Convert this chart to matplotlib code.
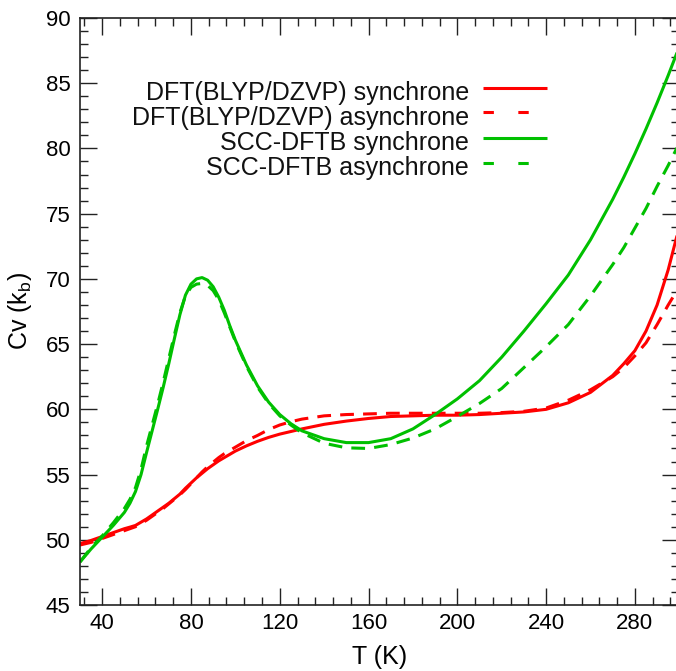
import matplotlib
matplotlib.use("Agg")
import matplotlib.pyplot as plt
from matplotlib.ticker import MultipleLocator

plt.rcParams['font.family'] = ['Liberation Sans', 'DejaVu Sans']
plt.rcParams['mathtext.fontset'] = 'custom'
plt.rcParams['mathtext.rm'] = 'Liberation Sans'
plt.rcParams['mathtext.it'] = 'Liberation Sans:italic'

T = [30, 35, 40, 45, 50, 52.5, 55, 57.5, 60, 62.5, 65, 67.5, 70, 72.5, 75, 77.5, 80,
     82.5, 85, 87.5, 90, 92.5, 95, 97.5, 100, 105, 110, 115, 120, 125, 130, 140,
     150, 160, 170, 180, 190, 200, 210, 220, 230, 240, 250, 260, 270, 275, 280,
     285, 290, 295, 300]

dft_sync = [49.7, 49.95, 50.25, 50.55, 50.85, 50.97, 51.1, 51.35, 51.6, 51.9, 52.2,
            52.5, 52.8, 53.15, 53.5, 53.95, 54.35, 54.75, 55.1, 55.45, 55.75,
            56.05, 56.3, 56.55, 56.8, 57.2, 57.55, 57.85, 58.1, 58.3, 58.5, 58.85,
            59.1, 59.3, 59.45, 59.5, 59.55, 59.55, 59.6, 59.7, 59.8, 60.0, 60.5,
            61.3, 62.6, 63.5, 64.5, 66.0, 68.0, 70.7, 74.0]

dft_async = [49.6, 49.8, 50.1, 50.4, 50.7, 50.85, 51.0, 51.25, 51.5, 51.8, 52.1, 52.4,
             52.75, 53.1, 53.45, 53.85, 54.3, 54.75, 55.2, 55.6, 55.95, 56.3,
             56.6, 56.85, 57.1, 57.6, 58.0, 58.45, 58.8, 59.05, 59.25, 59.5, 59.6,
             59.65, 59.7, 59.7, 59.7, 59.7, 59.7, 59.75, 59.85, 60.1, 60.7, 61.5,
             62.5, 63.2, 64.1, 65.1, 66.5, 68.0, 69.4]

scc_sync = [48.3, 49.3, 50.2, 51.1, 52.1, 52.8, 53.7, 55.0, 56.7, 58.35, 60.0, 61.7,
            63.5, 65.4, 67.25, 68.75, 69.6, 70.0, 70.1, 69.9, 69.4, 68.6, 67.6,
            66.4, 65.3, 63.4, 61.8, 60.55, 59.6, 58.9, 58.35, 57.75, 57.45, 57.45,
            57.75, 58.5, 59.6, 60.8, 62.2, 64.0, 66.0, 68.1, 70.3, 73.0, 76.1, 77.8,
            79.6, 81.5, 83.5, 85.6, 87.8]

scc_async = [48.3, 49.4, 50.3, 51.3, 52.4, 53.1, 54.0, 55.4, 57.2, 58.8, 60.4, 62.1,
             63.9, 65.7, 67.4, 68.7, 69.35, 69.6, 69.65, 69.5, 69.1, 68.4, 67.4,
             66.3, 65.2, 63.3, 61.7, 60.45, 59.5, 58.8, 58.2, 57.4, 57.05, 57.0,
             57.3, 57.8, 58.5, 59.45, 60.45, 61.6, 63.2, 64.8, 66.5, 68.7, 71.1,
             72.4, 73.9, 75.4, 77.1, 78.7, 80.4]

labels = ["DFT(BLYP/DZVP) synchrone", "DFT(BLYP/DZVP) asynchrone",
          "SCC-DFTB synchrone", "SCC-DFTB asynchrone"]

RED = '#ff0000'
GREEN = '#00c000'
LW = 2.2
DASH = (0, (4.5, 3.0))

fig = plt.figure(figsize=(6.76, 6.71), dpi=100)
ax = fig.add_axes([80 / 676, 1 - 605 / 671, 599.3 / 676, 587 / 671])

series = [(dft_sync, RED, '-'), (dft_async, RED, DASH),
          (scc_sync, GREEN, '-'), (scc_async, GREEN, DASH)]
for ys, c, ls in series:
    ax.plot(T, ys, color=c, lw=LW, linestyle=ls, solid_capstyle='butt',
            dash_capstyle='butt', solid_joinstyle='round', clip_on=True)

ax.set_xlim(30, 300)
ax.set_ylim(45, 90)
ax.xaxis.set_major_locator(MultipleLocator(40))
ax.xaxis.set_minor_locator(MultipleLocator(8))
ax.yaxis.set_major_locator(MultipleLocator(5))
ax.yaxis.set_minor_locator(MultipleLocator(1))
ax.set_xticks([40, 80, 120, 160, 200, 240, 280])
ax.tick_params(which='both', direction='in', top=True, right=True,
               labelsize=16, width=1.0, color='#222222')
ax.tick_params(which='major', length=12.5)
ax.tick_params(which='minor', length=6)
ax.tick_params(axis='y', pad=7)
ax.tick_params(axis='x', pad=6)
for s in ax.spines.values():
    s.set_linewidth(1.2)
    s.set_color('#222222')

ax.set_xlabel("T (K)", fontsize=18, labelpad=8)
ax.set_ylabel("Cv (k$_\\mathrm{b}$)", fontsize=18, labelpad=8)

# legend drawn manually (right-aligned texts, handles on the right)
W, H = 599.3, 587.0
def ax_x(px):
    return (px - 80) / W
def ax_y(py):
    return (605 - py) / H

leg_line_y = [88, 112, 138, 163]
leg_text_base = [100, 125, 150, 175]
leg_styles = [(RED, '-'), (RED, (0, (3.4, 8.0))), (GREEN, '-'), (GREEN, (0, (3.4, 8.0)))]
for lab, ly, ty, (c, ls) in zip(labels, leg_line_y, leg_text_base, leg_styles):
    ax.plot([ax_x(483), ax_x(547)], [ax_y(ly), ax_y(ly)], transform=ax.transAxes,
            color=c, lw=LW, linestyle=ls, solid_capstyle='butt', dash_capstyle='butt')
    ax.text(ax_x(469), ax_y(ty), lab, transform=ax.transAxes, ha='right',
            va='baseline', fontsize=18, color='#111111')

fig.savefig("out.png", dpi=100)
